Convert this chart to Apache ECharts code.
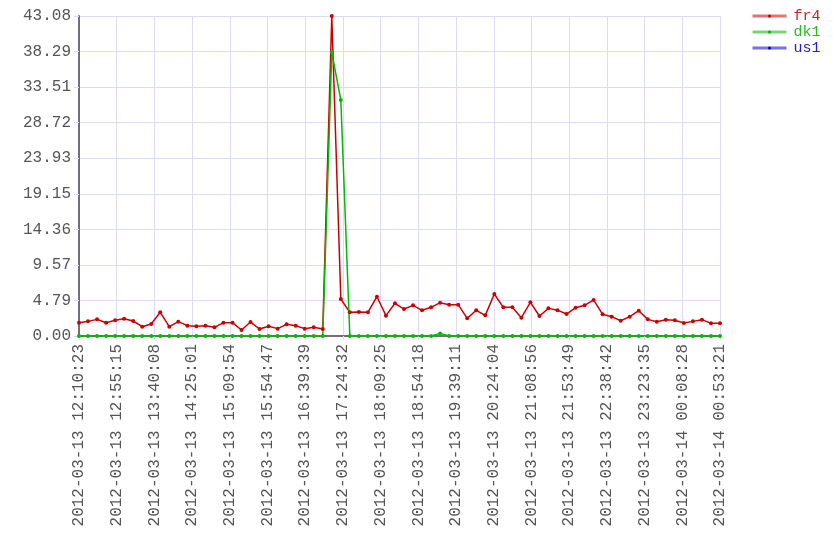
<!DOCTYPE html>
<html><head><meta charset="utf-8">
<script src="https://cdn.jsdelivr.net/npm/echarts@6/dist/echarts.min.js"></script>
<style>html,body{margin:0;padding:0;background:#fff}#c{width:840px;height:560px}</style>
</head><body><div id="c"></div>
<script>
// x tick labels (17 equal time steps)
const xTickLabels = [
  '2012-03-13 12:10:23','2012-03-13 12:55:15','2012-03-13 13:40:08','2012-03-13 14:25:01',
  '2012-03-13 15:09:54','2012-03-13 15:54:47','2012-03-13 16:39:39','2012-03-13 17:24:32',
  '2012-03-13 18:09:25','2012-03-13 18:54:18','2012-03-13 19:39:11','2012-03-13 20:24:04',
  '2012-03-13 21:08:56','2012-03-13 21:53:49','2012-03-13 22:38:42','2012-03-13 23:23:35',
  '2012-03-14 00:08:28','2012-03-14 00:53:21'
];
const yTickLabels = ['0.00','4.79','9.57','14.36','19.15','23.93','28.72','33.51','38.29','43.08'];
const yMaxValue = 43.08;

const fr4 = [1.79,1.97,2.24,1.79,2.11,2.33,2.02,1.25,1.62,3.19,
             1.25,1.93,1.39,1.30,1.39,1.17,1.79,1.79,0.81,1.88,
             0.94,1.30,0.99,1.57,1.39,0.99,1.17,0.94,43.08,4.98,
             3.19,3.23,3.19,5.29,2.74,4.40,3.63,4.13,3.46,3.86,
             4.49,4.22,4.22,2.38,3.46,2.78,5.65,3.86,3.86,2.47,
             4.53,2.69,3.72,3.48,2.96,3.81,4.13,4.85,2.92,2.60,
             2.06,2.60,3.41,2.24,1.93,2.20,2.11,1.75,1.97,2.20,
             1.70,1.70];
const dk1 = [0,0,0,0,0,0,0,0,0,0,
             0,0,0,0,0,0,0,0,0,0,
             0,0,0,0,0,0,0,0,38.19,31.77,
             0,0,0,0,0,0,0,0,0,0,
             0.35,0,0,0,0,0,0,0,0,0,
             0,0,0,0,0,0,0,0,0,0,
             0,0,0,0,0,0,0,0,0,0,
             0,0];
const us1 = [];

const nSteps = xTickLabels.length - 1;
const yStep = yMaxValue / (yTickLabels.length - 1);
function toPairs(arr){
  const n = arr.length - 1;
  return arr.map((v,i)=>[i * nSteps / n, v]);
}
const FONT = 'Liberation Mono';
const chart = echarts.init(document.getElementById('c'), null, {renderer:'canvas'});
chart.setOption({
  animation:false,
  backgroundColor:'#fff',
  grid:{left:79,right:120,top:16,bottom:224,containLabel:false},
  legend:{
    orient:'vertical', left:746, top:3, itemWidth:34, itemHeight:4, itemGap:0,
    textStyle:{fontFamily:FONT,fontSize:15,lineHeight:16,padding:[0,0,0,2]},
    lineStyle:{width:3,opacity:0.55},
    data:[
      {name:'fr4',textStyle:{color:'#cc2222'}},
      {name:'dk1',textStyle:{color:'#22bb22'}},
      {name:'us1',textStyle:{color:'#2222cc'}}
    ]
  },
  xAxis:{
    type:'value', min:0, max:nSteps, interval:1,
    axisLine:{show:true,onZero:false,lineStyle:{color:'#70707a',width:2}},
    axisTick:{show:true,length:4,lineStyle:{color:'#dcdcf8'}},
    splitLine:{show:true,lineStyle:{color:'#dcdcf8',width:1}},
    axisLabel:{rotate:90,margin:8,fontFamily:FONT,fontSize:16,color:'#555',
      formatter:v=>xTickLabels[Math.round(v)] || ''}
  },
  yAxis:{
    type:'value', min:0, max:yStep*(yTickLabels.length-1), interval:yStep,
    axisLine:{show:true,lineStyle:{color:'#70707a',width:2}},
    axisTick:{show:true,length:5,lineStyle:{color:'#dcdcf8'}},
    splitLine:{show:true,lineStyle:{color:'#dcdcf8',width:1}},
    axisLabel:{margin:8,fontFamily:FONT,fontSize:16,color:'#555',
      formatter:v=>yTickLabels[Math.round(v / yStep)] || ''}
  },
  series:[
    {name:'fr4',type:'line',data:toPairs(fr4),color:'#cc0000',symbol:'circle',symbolSize:4,
     lineStyle:{width:1.5,color:'#cc0000'},itemStyle:{color:'#cc0000'}},
    {name:'dk1',type:'line',data:toPairs(dk1),color:'#00bb00',symbol:'circle',symbolSize:4,
     lineStyle:{width:1.5,color:'#00bb00'},itemStyle:{color:'#00bb00'}},
    {name:'us1',type:'line',data:us1,color:'#0000cc',symbol:'circle',symbolSize:4,
     lineStyle:{width:1.5,color:'#0000cc'},itemStyle:{color:'#0000cc'}}
  ]
});
</script></body></html>
